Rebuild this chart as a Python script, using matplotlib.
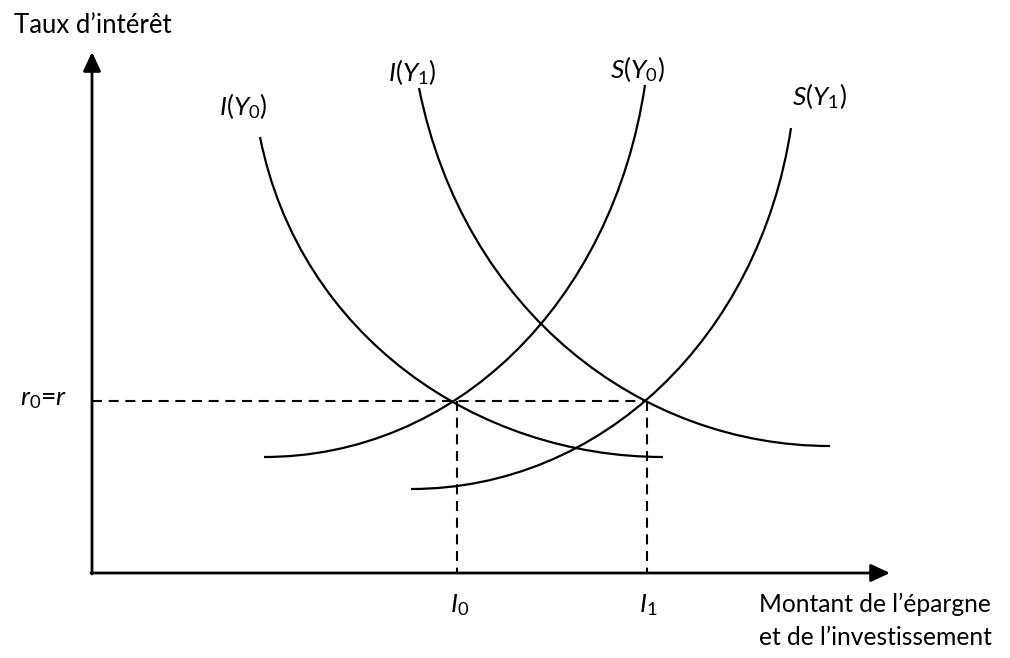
import matplotlib
matplotlib.use("Agg")
import matplotlib.pyplot as plt
from matplotlib.path import Path
from matplotlib.patches import PathPatch

plt.rcParams['font.family'] = ['Lato', 'DejaVu Sans']
plt.rcParams['mathtext.fontset'] = 'custom'
plt.rcParams['mathtext.rm'] = 'Lato'
plt.rcParams['mathtext.it'] = 'Lato:italic'

# diagram coordinates (pixel grid of the original sketch, y grows downward)
origin = (92, 573)
y_axis_top = 52
x_axis_right = 890
r0 = 401
I0 = 457
I1 = 647

# cubic bezier control points: start, ctrl1, ctrl2, end
curve_names = ['I(Y0)', 'I(Y1)', 'S(Y0)', 'S(Y1)']
curve_x = [
    [260, 300, 478, 663],
    [419, 464, 641, 830],
    [264, 454, 612, 645],
    [411, 601, 759, 791],
]
curve_y = [
    [137, 337, 457, 457],
    [88, 312, 446, 446],
    [457, 457, 305, 85],
    [489, 489, 338, 128],
]

labels = [r'$I(Y_0)$', r'$I(Y_1)$', r'$S(Y_0)$', r'$S(Y_1)$']
label_x = [243, 412, 637, 819]
label_y = [106, 72, 69, 96]

fig = plt.figure(figsize=(10.1, 6.58), dpi=100)
ax = fig.add_axes([0, 0, 1, 1])
ax.set_xlim(0, 1010)
ax.set_ylim(658, 0)
ax.axis('off')

# axes with arrows
arrow = dict(arrowstyle='-|>,head_length=0.58,head_width=0.27', lw=2.0,
             color='black', shrinkA=0, shrinkB=0, mutation_scale=20)
ax.annotate('', xy=(origin[0], y_axis_top), xytext=(origin[0], origin[1] + 1),
            arrowprops=arrow)
ax.annotate('', xy=(x_axis_right, origin[1]), xytext=(origin[0] - 1, origin[1]),
            arrowprops=arrow)

# dashed guides
dash = (0, (4.8, 3.2))
ax.plot([origin[0], I1], [r0, r0], color='black', lw=1.5, ls=dash)
ax.plot([I0, I0], [r0, origin[1]], color='black', lw=1.5, ls=dash)
ax.plot([I1, I1], [r0, origin[1]], color='black', lw=1.5, ls=dash)

codes = [Path.MOVETO, Path.CURVE4, Path.CURVE4, Path.CURVE4]
for xs, ys in zip(curve_x, curve_y):
    p = Path(list(zip(xs, ys)), codes)
    ax.add_patch(PathPatch(p, fill=False, lw=1.6, edgecolor='black'))

for t, x, y in zip(labels, label_x, label_y):
    ax.text(x, y, t, fontsize=19, ha='center', va='center')

ax.text(14, 33, "Taux d\u2019intérêt", fontsize=18.5, ha='left', va='baseline')
ax.text(67, 405, r'$r_0$=$r$', fontsize=19, ha='right', va='baseline')
ax.text(460, 605, r'$I_0$', fontsize=19, ha='center', va='center')
ax.text(648, 605, r'$I_1$', fontsize=19, ha='center', va='center')
ax.text(759, 612, "Montant de l\u2019épargne", fontsize=17.7, ha='left', va='baseline')
ax.text(759, 645, "et de l\u2019investissement", fontsize=17.7, ha='left', va='baseline')

fig.savefig('out.png', dpi=100)
